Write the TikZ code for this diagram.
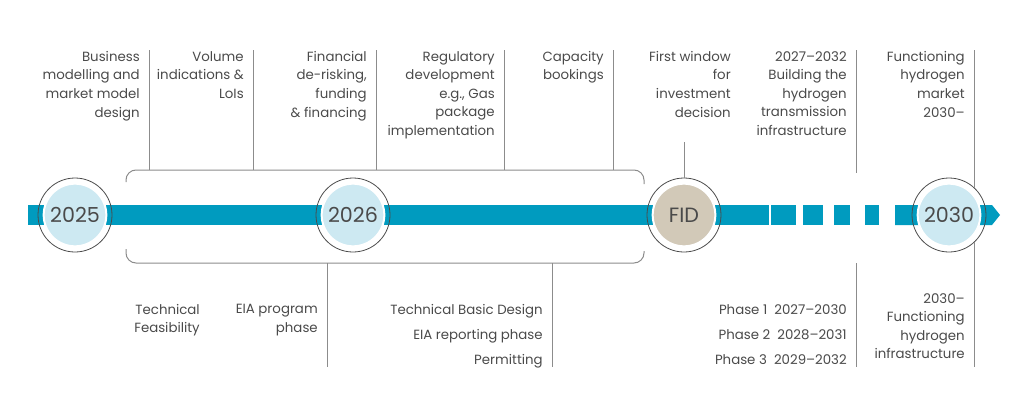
\documentclass[tikz,border=0pt]{standalone}
\usepackage{fontspec}
\setmainfont{Poppins}
\usetikzlibrary{calc}
\definecolor{barblue}{HTML}{009BBF}
\definecolor{pale}{HTML}{CDE9F2}
\definecolor{sand}{HTML}{D2C9B8}
\definecolor{txt}{HTML}{4A4A4A}
\definecolor{rule}{HTML}{8C8C8C}
\tikzset{
  lbl/.style={anchor=north east,inner sep=0pt,align=right,text=txt,font=\fontsize{10}{13.9}\selectfont},
  lst/.style={lbl,font=\fontsize{10}{18.9}\selectfont},
  yr/.style={circle,fill=pale,draw=white,line width=1.5pt,minimum size=47pt,inner sep=0pt,text=txt,font=\fontsize{15.5}{15.5}\selectfont},
  ring/.style={draw=black!70,line width=0.6pt},
  tk/.style={draw=rule,line width=0.75pt},
}
\begin{document}
\begin{tikzpicture}[x=0.75pt,y=-0.75pt]
\useasboundingbox (0,0) rectangle (1024,407);
% timeline bar
\fill[barblue] (28,205) rectangle (769,225);
\foreach \a/\b in {771/796,803/823,834/850,865/879}{\fill[barblue] (\a,205) rectangle (\b,225);}
\fill[barblue] (895,205) -- (992,205) -- (1000,215) -- (992,225) -- (895,225) -- cycle;
% milestones
\node[yr] (n25) at (75,215) {2025};
\node[yr] (n26) at (353,215) {2026};
\node[yr,fill=sand] (fid) at (684,215) {FID};
\node[yr] (n30) at (949,215) {2030};
\foreach \n in {n25,n26,fid,n30}{\draw[ring] (\n.center) circle[radius=27.75pt];}
% brackets
\coordinate (tb) at (0,170); \coordinate (bb) at (0,263); \coordinate (bot) at (0,367);
\draw[tk,rounded corners=7.5pt] (126,182) -- (126,170) -- (644,170) -- (644,184);
\draw[tk,rounded corners=7.5pt] (126,249) -- (126,263) -- (644,263) -- (644,251);
% upper labels with ticks
\foreach \x/\n/\t in {149/bm/{Business\\modelling and\\market model\\design},
  253/vi/{Volume\\indications \&\\LoIs},
  376/fd/{Financial\\de-risking,\\funding\\\& financing},
  504/rd/{Regulatory\\development\\e.g., Gas\\package\\implementation},
  613/cb/{Capacity\\bookings}}{
  \coordinate (\n) at (\x,50);
  \node[lbl] (\n l) at ($(\n)+(-9,1)$) {\t};
  \draw[tk] (\n) -- (\n |- tb);
}
\node[lbl] (fw) at (731,51) {First window\\for\\investment\\decision};
\coordinate (fidt) at (684,142);
\draw[tk] (fidt) -- ($(fid.center)+(0,-37)$);
\coordinate (bh) at (856,50); \coordinate (fm) at (974,50);
\node[lbl] (bh l) at ($(bh)+(-9,1)$) {2027--2032\\Building the\\hydrogen\\transmission\\infrastructure};
\node[lbl] (fm l) at ($(fm)+(-9,1)$) {Functioning\\hydrogen\\market\\2030--};
\draw[tk] (bh) -- (856,173);
\draw[tk] (fm) -- ($(n30.center)+(25,-27.3)$);
% lower labels with ticks
\coordinate (ep) at (327,263); \coordinate (td) at (552,263);
\coordinate (ph) at (856,263); \coordinate (fi) at ($(n30.center)+(25,27.3)$);
\node[lbl] (tf l) at (200,304) {Technical\\Feasibility};
\node[lbl] (ep l) at (318,304) {EIA program\\phase};
\node[lst] (td l) at (543,304) {Technical Basic Design\\EIA reporting phase\\Permitting};
\node[lst] (ph l) at (847,304) {Phase 1~~2027--2030\\Phase 2~~2028--2031\\Phase 3~~2029--2032};
\node[lbl] (fi l) at (965,293) {2030--\\Functioning\\hydrogen\\infrastructure};
\foreach \n in {ep,td,ph,fi}{\draw[tk] (\n) -- (\n |- bot);}
\end{tikzpicture}
\end{document}
